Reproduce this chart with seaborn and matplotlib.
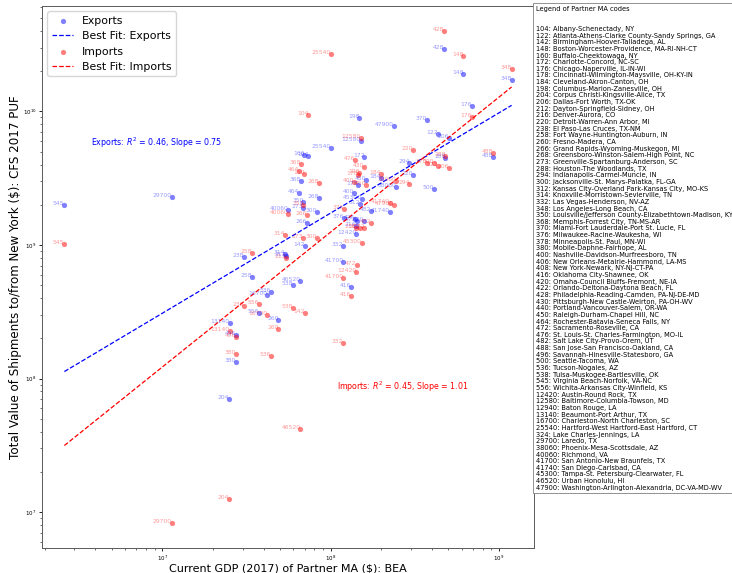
import numpy as np
import pandas as pd
import matplotlib
matplotlib.use('Agg')
import matplotlib.pyplot as plt
import seaborn as sns


# Partner MA codes shown on the chart
codes = ['545', '29700', '204', '13140', '380', '496', '238', '258', '556', '16700',
         '536', '260', '314', '212', '40060', '538', '464', '46520', '368', '273',
         '350', '160', '142', '266', '104', '300', '268', '25540', '332', '41700',
         '376', '416', '400', '476', '216', '12420', '472', '178', '198', '312',
         '12580', '45300', '172', '430', '450', '482', '184', '41740', '47900', '38060',
         '294', '220', '370', '500', '122', '428', '288', '206', '148', '176',
         '488', '348']

# Current GDP (2017) of partner MA, thousands of $
gdp = [2.62e6, 1.14e7, 2.48e7, 2.51e7, 2.73e7, 2.75e7, 3.07e7, 3.43e7, 3.77e7, 4.20e7,
       4.44e7, 4.90e7, 5.37e7, 5.44e7, 5.62e7, 5.99e7, 6.50e7, 6.62e7, 6.66e7, 6.87e7,
       6.90e7, 6.98e7, 7.06e7, 7.22e7, 7.38e7, 8.32e7, 8.55e7, 1.007e8, 1.19e8, 1.19e8,
       1.20e8, 1.33e8, 1.37e8, 1.40e8, 1.41e8, 1.42e8, 1.43e8, 1.46e8, 1.48e8, 1.50e8,
       1.51e8, 1.53e8, 1.59e8, 1.59e8, 1.62e8, 1.74e8, 1.99e8, 2.25e8, 2.38e8, 2.45e8,
       2.94e8, 3.07e8, 3.72e8, 4.11e8, 4.33e8, 4.74e8, 4.81e8, 5.05e8, 6.14e8, 6.94e8,
       9.18e8, 1.19e9]

# Shipments from New York to the partner MA ($)
exports = [1.99e9, 2.29e9, 7.06e7, 2.61e8, 1.32e8, 2.13e8, 8.16e8, 5.74e8, 3.10e8, 4.19e8,
           4.45e8, 2.74e8, 8.52e8, 8.27e8, 1.82e9, 5.00e8, 2.46e9, 5.35e8, 3.03e9, 1.88e9,
           2.10e9, 4.74e9, 9.80e8, 1.47e9, 4.63e9, 1.76e9, 2.23e9, 5.35e9, 9.80e8, 7.48e8,
           1.60e9, 4.81e8, 2.46e9, 1.57e9, 1.38e9, 1.20e9, 1.51e9, 2.79e9, 8.97e9, 2.01e9,
           6.03e9, 2.22e9, 4.52e9, 1.51e9, 3.06e9, 1.79e9, 3.16e9, 1.75e9, 7.76e9, 2.73e9,
           4.08e9, 3.36e9, 8.61e9, 2.64e9, 6.76e9, 2.93e10, 4.50e9, 6.35e9, 1.92e10, 1.10e10,
           4.55e9, 1.71e10]

# Shipments from the partner MA to New York ($)
imports = [1.01e9, 8.24e6, 1.26e7, 2.28e8, 1.53e8, 2.05e8, 3.52e8, 8.75e8, 3.61e8, 2.98e8,
           1.47e8, 2.33e8, 1.18e9, 8.00e8, 1.71e9, 3.40e8, 3.59e9, 4.20e7, 4.01e9, 1.12e9,
           1.98e9, 3.39e9, 3.08e8, 1.69e9, 9.33e9, 1.12e9, 2.92e9, 2.71e10, 1.86e8, 5.64e8,
           1.87e9, 4.16e8, 2.95e9, 4.30e9, 1.34e9, 6.25e8, 7.06e8, 3.33e9, 3.43e9, 1.35e9,
           6.31e9, 1.03e9, 1.35e9, 3.85e9, 2.79e9, 1.45e9, 3.37e9, 2.07e9, 1.98e9, 2.99e9,
           2.84e9, 5.10e9, 4.13e9, 4.08e9, 3.91e9, 4.02e10, 4.63e9, 3.79e9, 2.60e10, 9.07e9,
           4.91e9, 2.06e10]

# log-log best fits as printed on the chart
exp_slope, exp_icpt, exp_r2 = 0.75, 3.2385, 0.46
imp_slope, imp_icpt, imp_r2 = 1.01, 1.016, 0.45

legend_codes = ['104', '122', '142', '148', '160', '172', '176', '178', '184', '198',
                '204', '206', '212', '216', '220', '238', '258', '260', '266', '268',
                '273', '288', '294', '300', '312', '314', '332', '348', '350', '368',
                '370', '376', '378', '380', '400', '406', '408', '416', '420', '422',
                '428', '430', '440', '450', '464', '472', '476', '482', '488', '496',
                '500', '536', '538', '545', '556', '12420', '12580', '12940', '13140', '16700',
                '25540', '324', '29700', '38060', '40060', '41700', '41740', '45300', '46520', '47900']
legend_names = ['Albany-Schenectady, NY', 'Atlanta-Athens-Clarke County-Sandy Springs, GA',
                'Birmingham-Hoover-Talladega, AL', 'Boston-Worcester-Providence, MA-RI-NH-CT',
                'Buffalo-Cheektowaga, NY', 'Charlotte-Concord, NC-SC', 'Chicago-Naperville, IL-IN-WI',
                'Cincinnati-Wilmington-Maysville, OH-KY-IN', 'Cleveland-Akron-Canton, OH',
                'Columbus-Marion-Zanesville, OH', 'Corpus Christi-Kingsville-Alice, TX',
                'Dallas-Fort Worth, TX-OK', 'Dayton-Springfield-Sidney, OH', 'Denver-Aurora, CO',
                'Detroit-Warren-Ann Arbor, MI', 'El Paso-Las Cruces, TX-NM',
                'Fort Wayne-Huntington-Auburn, IN', 'Fresno-Madera, CA',
                'Grand Rapids-Wyoming-Muskegon, MI', 'Greensboro-Winston-Salem-High Point, NC',
                'Greenville-Spartanburg-Anderson, SC', 'Houston-The Woodlands, TX',
                'Indianapolis-Carmel-Muncie, IN', 'Jacksonville-St. Marys-Palatka, FL-GA',
                'Kansas City-Overland Park-Kansas City, MO-KS', 'Knoxville-Morristown-Sevierville, TN',
                'Las Vegas-Henderson, NV-AZ', 'Los Angeles-Long Beach, CA',
                'Louisville/Jefferson County-Elizabethtown-Madison, KY-IN', 'Memphis-Forrest City, TN-MS-AR',
                'Miami-Fort Lauderdale-Port St. Lucie, FL', 'Milwaukee-Racine-Waukesha, WI',
                'Minneapolis-St. Paul, MN-WI', 'Mobile-Daphne-Fairhope, AL',
                'Nashville-Davidson-Murfreesboro, TN', 'New Orleans-Metairie-Hammond, LA-MS',
                'New York-Newark, NY-NJ-CT-PA', 'Oklahoma City-Shawnee, OK',
                'Omaha-Council Bluffs-Fremont, NE-IA', 'Orlando-Deltona-Daytona Beach, FL',
                'Philadelphia-Reading-Camden, PA-NJ-DE-MD', 'Pittsburgh-New Castle-Weirton, PA-OH-WV',
                'Portland-Vancouver-Salem, OR-WA', 'Raleigh-Durham-Chapel Hill, NC',
                'Rochester-Batavia-Seneca Falls, NY', 'Sacramento-Roseville, CA',
                'St. Louis-St. Charles-Farmington, MO-IL', 'Salt Lake City-Provo-Orem, UT',
                'San Jose-San Francisco-Oakland, CA', 'Savannah-Hinesville-Statesboro, GA',
                'Seattle-Tacoma, WA', 'Tucson-Nogales, AZ', 'Tulsa-Muskogee-Bartlesville, OK',
                'Virginia Beach-Norfolk, VA-NC', 'Wichita-Arkansas City-Winfield, KS',
                'Austin-Round Rock, TX', 'Baltimore-Columbia-Towson, MD', 'Baton Rouge, LA',
                'Beaumont-Port Arthur, TX', 'Charleston-North Charleston, SC',
                'Hartford-West Hartford-East Hartford, CT', 'Lake Charles-Jennings, LA', 'Laredo, TX',
                'Phoenix-Mesa-Scottsdale, AZ', 'Richmond, VA', 'San Antonio-New Braunfels, TX',
                'San Diego-Carlsbad, CA', 'Tampa-St. Petersburg-Clearwater, FL', 'Urban Honolulu, HI',
                'Washington-Arlington-Alexandria, DC-VA-MD-WV']

df = pd.DataFrame({'code': codes, 'gdp': gdp, 'exports': exports, 'imports': imports})

fig = plt.figure(figsize=(7.32, 5.73), dpi=100)
ax = fig.add_axes([42 / 732, 1 - 548 / 573, 492 / 732, 542 / 573])

xfit = np.array([df['gdp'].min(), df['gdp'].max()])

sns.scatterplot(data=df, x='gdp', y='exports', color='blue', alpha=0.5, s=14,
                linewidth=0, label='Exports', ax=ax)
ax.plot(xfit, 10 ** (exp_icpt + exp_slope * np.log10(xfit)), '--', color='blue',
        lw=0.9, label='Best Fit: Exports')
sns.scatterplot(data=df, x='gdp', y='imports', color='red', alpha=0.5, s=14,
                linewidth=0, label='Imports', ax=ax)
ax.plot(xfit, 10 ** (imp_icpt + imp_slope * np.log10(xfit)), '--', color='red',
        lw=0.9, label='Best Fit: Imports')

# code labels next to every point
for _, r in df.iterrows():
    ax.text(r['gdp'], r['exports'], r['code'], color='blue', alpha=0.4, fontsize=4.3,
            ha='right', va='baseline')
    ax.text(r['gdp'], r['imports'], r['code'], color='red', alpha=0.4, fontsize=4.3,
            ha='right', va='baseline')

ax.set_xscale('log')
ax.set_yscale('log')
ax.tick_params(labelsize=4, width=0.6, length=2.5, pad=1.5)
ax.tick_params(which='minor', width=0.4, length=1.5)
for sp in ax.spines.values():
    sp.set_linewidth(0.7)
    sp.set_color('0.35')

ax.text(0.1, 0.748, f'Exports: $R^2$ = {exp_r2:.2f}, Slope = {exp_slope:.2f}',
        transform=ax.transAxes, color='blue', fontsize=5.7, va='center')
ax.text(0.6, 0.298, f'Imports: $R^2$ = {imp_r2:.2f}, Slope = {imp_slope:.2f}',
        transform=ax.transAxes, color='red', fontsize=5.7, va='center')

ax.set_xlabel('Current GDP (2017) of Partner MA ($): BEA', fontsize=8, labelpad=0.5)
ax.set_ylabel('Total Value of Shipments to/from New York ($): CFS 2017 PUF', fontsize=8.6,
              labelpad=0.5)
ax.legend(loc='upper left', fontsize=7.8)

legend_text = 'Legend of Partner MA codes\n\n\n' + '\n'.join(
    f'{c}: {n}' for c, n in zip(legend_codes, legend_names))
fig.text(536 / 732, 1 - 6 / 573, legend_text, fontsize=4.8, linespacing=1.13,
         ha='left', va='top',
         bbox=dict(boxstyle='square,pad=0.4', fc='white', ec='0.5', lw=0.6))

fig.savefig('out.png', dpi=100)
